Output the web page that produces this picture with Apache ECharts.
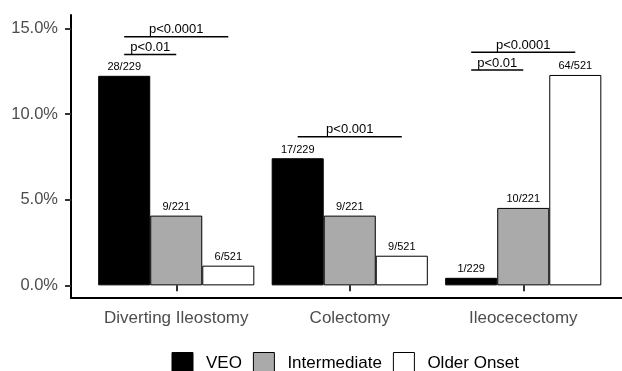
<!DOCTYPE html>
<html>
<head>
<meta charset="utf-8">
<script src="https://cdn.jsdelivr.net/npm/echarts@6/dist/echarts.min.js"></script>
<style>html,body{margin:0;padding:0;background:#fff}#c{width:622px;height:371px}</style>
</head>
<body>
<div id="c"></div>
<script>
// ---- data ----
const categories = ['Diverting Ileostomy', 'Colectomy', 'Ileocecectomy'];
const seriesNames = ['VEO', 'Intermediate', 'Older Onset'];
const veoValues = [12.23, 7.42, 0.44];
const intermediateValues = [4.07, 4.07, 4.52];
const olderValues = [1.15, 1.73, 12.28];
const veoLabels = ['28/229', '17/229', '1/229'];
const intermediateLabels = ['9/221', '9/221', '10/221'];
const olderLabels = ['6/521', '9/521', '64/521'];
const yTicks = [0, 5, 10, 15];
// significance brackets: category, from group, to group, height (%), text
const bracketCat = [0, 0, 1, 2, 2];
const bracketFrom = [0, 0, 0, 0, 0];
const bracketTo = [1, 2, 2, 1, 2];
const bracketY = [13.48, 14.51, 8.68, 12.57, 13.60];
const bracketText = ['p<0.01', 'p<0.0001', 'p<0.001', 'p<0.01', 'p<0.0001'];

const FONT = "'Liberation Sans', Arial, Helvetica, sans-serif";
const fills = ['#000000', '#AAAAAA', '#FFFFFF'];
const valueSets = [veoValues, intermediateValues, olderValues];
const labelSets = [veoLabels, intermediateLabels, olderLabels];

const chart = echarts.init(document.getElementById('c'), null, {renderer: 'canvas'});

const barSeries = seriesNames.map((name, s) => ({
  name: name,
  type: 'bar',
  xAxisIndex: 0,
  yAxisIndex: 0,
  barWidth: '30%',
  barGap: '0%',
  data: valueSets[s],
  itemStyle: {color: fills[s], borderColor: '#000', borderWidth: 1},
  label: {
    show: true,
    position: 'top',
    distance: 3,
    fontFamily: FONT,
    fontSize: 11,
    color: '#000',
    formatter: p => labelSets[s][p.dataIndex]
  },
  emphasis: {disabled: true}
}));

const bracketData = bracketCat.map((c, i) => [c, bracketY[i], bracketFrom[i], bracketTo[i], i]);

const bracketSeries = {
  type: 'custom',
  xAxisIndex: 0,
  yAxisIndex: 0,
  silent: true,
  encode: {x: 0, y: 1},
  data: bracketData,
  renderItem: function (params, api) {
    const c = api.coord([api.value(0), api.value(1)]);
    const band = api.size([1, 0])[0];
    const bw = band * 0.3;
    const x1 = c[0] + (api.value(2) - 1) * bw;
    const x2 = c[0] + (api.value(3) - 1) * bw;
    const idx = api.value(4);
    return {
      type: 'group',
      children: [
        {type: 'line', shape: {x1: x1, y1: c[1], x2: x2, y2: c[1]},
         style: {stroke: '#000', lineWidth: 1.5}},
        {type: 'text', x: (x1 + x2) / 2, y: c[1] - 7,
         style: {text: bracketText[idx], fill: '#000', font: '13px ' + FONT,
                 textAlign: 'center', textVerticalAlign: 'middle'}}
      ]
    };
  }
};

const option = {
  animation: false,
  backgroundColor: '#fff',
  grid: [
    {left: 89.5, right: 12, top: 15, bottom: 73.3},
    {left: 71, right: 0, top: 15, bottom: 73.3}
  ],
  legend: {
    data: seriesNames,
    left: 171.5,
    top: 352,
    padding: 0,
    icon: 'rect',
    itemWidth: 21,
    itemHeight: 21,
    itemGap: 11,
    selectedMode: false,
    itemStyle: {borderColor: '#000', borderWidth: 1},
    textStyle: {fontFamily: FONT, fontSize: 17, color: '#000', padding: [0, 0, 0, 8]}
  },
  xAxis: [
    {
      type: 'category',
      gridIndex: 0,
      data: categories,
      axisLine: {show: false},
      axisTick: {show: true, alignWithLabel: true, length: 6, lineStyle: {color: '#333', width: 2}},
      axisLabel: {fontFamily: FONT, fontSize: 17, color: '#4D4D4D', margin: 12, interval: 0},
      splitLine: {show: false}
    },
    {
      type: 'value',
      gridIndex: 1,
      min: 0, max: 1,
      axisLine: {show: true, lineStyle: {color: '#000', width: 2}},
      axisTick: {show: false},
      axisLabel: {show: false},
      splitLine: {show: false}
    }
  ],
  yAxis: [
    {
      type: 'value',
      gridIndex: 0,
      min: -0.72,
      max: 15.78,
      offset: 18.5,
      axisLine: {show: true, lineStyle: {color: '#000', width: 2}},
      axisTick: {show: true, length: 6, customValues: yTicks, lineStyle: {color: '#333', width: 2}},
      axisLabel: {
        fontFamily: FONT, fontSize: 16.5, color: '#4D4D4D', margin: 13,
        customValues: yTicks,
        formatter: v => v.toFixed(1) + '%'
      },
      splitLine: {show: false}
    },
    {type: 'value', gridIndex: 1, show: false}
  ],
  series: [...barSeries, bracketSeries]
};

chart.setOption(option);
</script>
</body>
</html>
